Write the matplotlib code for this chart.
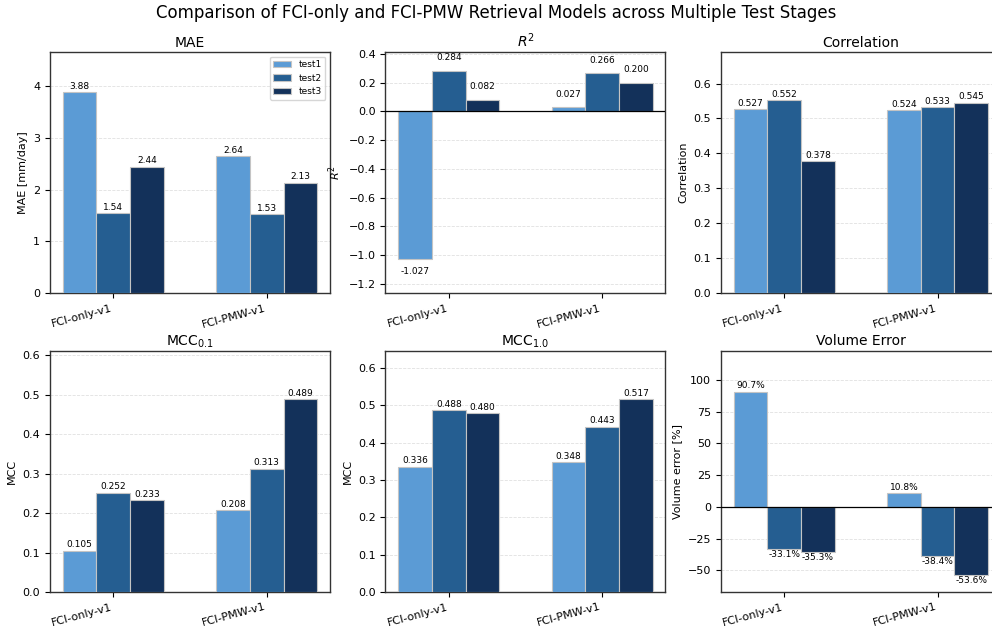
import numpy as np
import matplotlib
matplotlib.use('Agg')
from matplotlib import pyplot as plt

#model names and test stages
models = ['FCI-only-v1', 'FCI-PMW-v1']
stages = ['test1', 'test2', 'test3']
colors = ['#5B9BD5', '#255E91', '#13315A']

#metric values, rows = model, cols = test stage
mae = [[3.88, 1.54, 2.44], [2.64, 1.53, 2.13]]
r2 = [[-1.027, 0.284, 0.082], [0.027, 0.266, 0.200]]
corr = [[0.527, 0.552, 0.378], [0.524, 0.533, 0.545]]
mcc01 = [[0.105, 0.252, 0.233], [0.208, 0.313, 0.489]]
mcc10 = [[0.336, 0.488, 0.480], [0.348, 0.443, 0.517]]
volerr = [[90.7, -33.1, -35.3], [10.8, -38.4, -53.6]]

panels = [
    (mae, 'MAE', 'MAE [mm/day]', '%.2f', (0, 4.656), 1),
    (r2, '$R^2$', '$R^2$', '%.3f', (-1.265, 0.412), 6),
    (corr, 'Correlation', 'Correlation', '%.3f', (0, 0.69), 1),
    (mcc01, 'MCC$_{0.1}$', 'MCC', '%.3f', (0, 0.611), 1),
    (mcc10, 'MCC$_{1.0}$', 'MCC', '%.3f', (0, 0.646), 1),
    (volerr, 'Volume Error', 'Volume error [%]', '%.1f%%', (-67.0, 122.6), 1),
]

fig, axes = plt.subplots(2, 3, figsize=(9.92, 6.28), dpi=100)
fig.subplots_adjust(left=0.0504, right=1.009, top=0.917, bottom=0.0573,
                    wspace=0.198, hspace=0.24)

x = np.arange(len(models))
w = 0.22

for ax, (vals, title, ylab, fmt, ylim, pad) in zip(axes.flat, panels):
    vals = np.array(vals)
    for j, st in enumerate(stages):
        bars = ax.bar(x + (j - 1) * w, vals[:, j], w, color=colors[j],
                      edgecolor='#c4c4c4', linewidth=0.8, label=st, zorder=3)
        ax.bar_label(bars, fmt=fmt, padding=pad, fontsize=6.5)
    ax.set_title(title, fontsize=10, pad=4)
    ax.set_ylabel(ylab, fontsize=8)
    ax.set_ylim(ylim)
    ax.set_xticks(x)
    ax.set_xticklabels(models, rotation=15, ha='right', fontsize=8)
    ax.tick_params(axis='y', labelsize=8)
    ax.grid(axis='y', linestyle='--', color='#cccccc', alpha=0.6, linewidth=0.6, zorder=0)
    for sp in ax.spines.values():
        sp.set_color('#333333')
        sp.set_linewidth(1.0)
    if ylim[0] < 0:
        ax.axhline(0, color='black', linewidth=0.9, zorder=4)

axes[0, 0].legend(fontsize=6.5, loc='upper right')

fig.suptitle('Comparison of FCI-only and FCI-PMW Retrieval Models across Multiple Test Stages',
             fontsize=12, x=0.5, y=0.993)

plt.savefig('out.png', dpi=100)
